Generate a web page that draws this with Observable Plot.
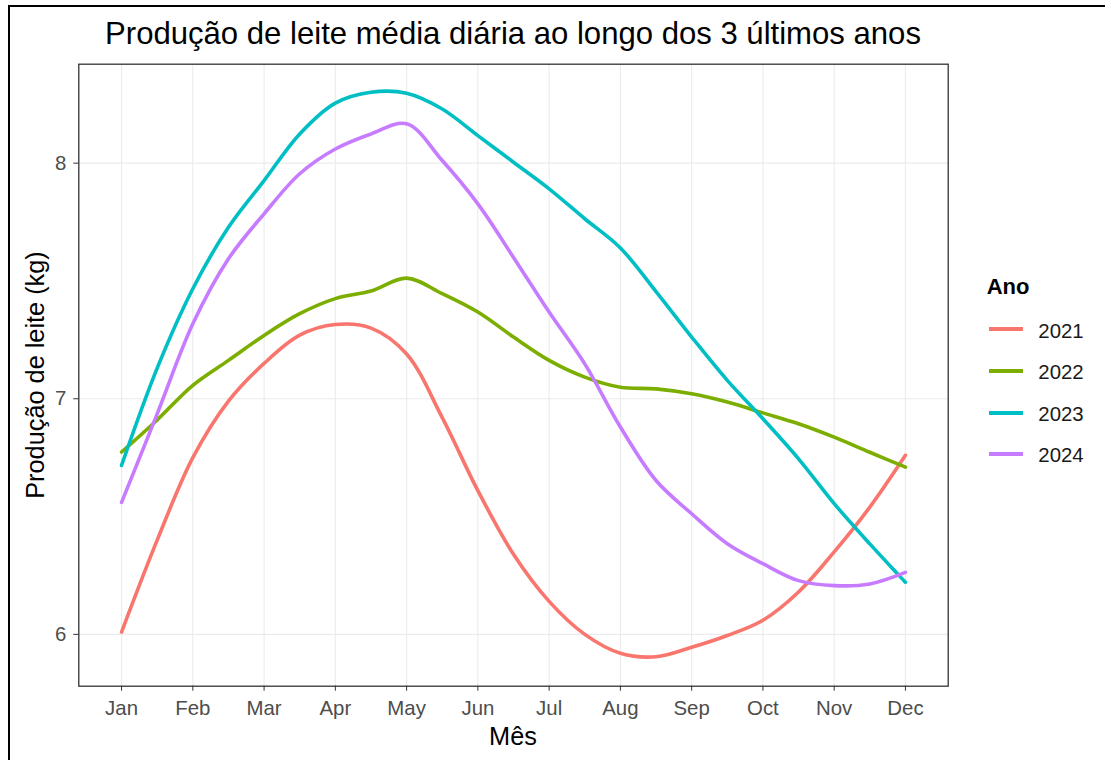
<!DOCTYPE html>
<html>
<head>
<meta charset="utf-8">
<script src="https://cdn.jsdelivr.net/npm/d3@7"></script>
<script src="https://cdn.jsdelivr.net/npm/@observablehq/plot@0.6"></script>
<style>
  html, body { margin: 0; padding: 0; background: #fff; }
  #wrap { position: relative; width: 1105px; height: 760px; background: #fff; overflow: hidden;
          font-family: "Liberation Sans", Arial, sans-serif; }
  #chart { position: absolute; left: 0; top: 0; }
  .txt { position: absolute; line-height: 1; white-space: nowrap; color: #000; }
  .key { position: absolute; height: 4px; width: 34px; }
</style>
</head>
<body>
<div id="wrap">
  <div id="chart"></div>
</div>
<script>
// ---- data ----
const months = [1, 1.5, 2, 2.5, 3, 3.5, 4, 4.5, 5, 5.5, 6, 6.5, 7, 7.5, 8, 8.5, 9, 9.5, 10, 10.5, 11, 11.5, 12];
const monthTicks = [1, 2, 3, 4, 5, 6, 7, 8, 9, 10, 11, 12];
const monthLabels = ["Jan", "Feb", "Mar", "Apr", "May", "Jun", "Jul", "Aug", "Sep", "Oct", "Nov", "Dec"];
const yTicks = [6, 7, 8];
const years = ["2021", "2022", "2023", "2024"];

const v2021 = [6.01, 6.40, 6.75, 6.99, 7.15, 7.27, 7.315, 7.30, 7.19, 6.92, 6.61, 6.34, 6.14, 6.00, 5.92, 5.905, 5.945, 5.995, 6.06, 6.18, 6.35, 6.54, 6.76];
const v2022 = [6.774, 6.91, 7.057, 7.163, 7.269, 7.361, 7.425, 7.457, 7.512, 7.446, 7.368, 7.262, 7.163, 7.092, 7.049, 7.042, 7.021, 6.986, 6.94, 6.894, 6.837, 6.773, 6.71];
const v2023 = [6.717, 7.13, 7.467, 7.728, 7.926, 8.124, 8.255, 8.301, 8.297, 8.23, 8.117, 8.004, 7.891, 7.764, 7.64, 7.455, 7.262, 7.078, 6.915, 6.745, 6.555, 6.384, 6.221];
const v2024 = [6.56, 6.936, 7.318, 7.594, 7.785, 7.955, 8.06, 8.124, 8.167, 8.011, 7.827, 7.60, 7.368, 7.148, 6.88, 6.653, 6.512, 6.385, 6.30, 6.228, 6.207, 6.214, 6.263];

const colors = ["#F8766D", "#7CAE00", "#00BFC4", "#C77CFF"];

const titleText = "Produção de leite média diária ao longo dos 3 últimos anos";
const xTitle = "Mês";
const yTitle = "Produção de leite (kg)";
const legendTitle = "Ano";

// ---- tidy table ----
const seriesValues = [v2021, v2022, v2023, v2024];
const rows = [];
years.forEach((yr, i) => {
  months.forEach((m, j) => rows.push({ano: yr, mes: m, valor: seriesValues[i][j]}));
});

const chart = Plot.plot({
  width: 1105,
  height: 760,
  marginLeft: 78.3,
  marginRight: 157.3,
  marginTop: 63.7,
  marginBottom: 74.3,
  style: {fontFamily: "'Liberation Sans', Arial, sans-serif", fontSize: "20.4px", background: "transparent", overflow: "visible"},
  x: {domain: [1 - 0.6, 12 + 0.6]},
  y: {domain: [5.780, 8.420]},
  color: {domain: years, range: colors},
  marks: [
    Plot.gridX(monthTicks, {stroke: "#EBEBEB", strokeOpacity: 1, strokeWidth: 1.1}),
    Plot.gridY(yTicks, {stroke: "#EBEBEB", strokeOpacity: 1, strokeWidth: 1.1}),
    Plot.line(rows, {x: "mes", y: "valor", z: "ano", stroke: "ano", strokeWidth: 3.6, curve: "catmull-rom"}),
    Plot.frame({stroke: "#333333", strokeWidth: 1.3}),
    Plot.axisX(monthTicks, {tickFormat: (d) => monthLabels[d - 1], tickSize: 5, tickPadding: 9.5, stroke: "#333333", fill: "#4D4D4D", label: null}),
    Plot.axisY(yTicks, {tickFormat: (d) => String(d), tickSize: 5, tickPadding: 7.5, stroke: "#333333", fill: "#4D4D4D", label: null})
  ]
});
document.getElementById("chart").appendChild(chart);

// ---- text and legend overlays ----
const wrap = document.getElementById("wrap");
function addText(str, opts) {
  const d = document.createElement("div");
  d.className = "txt";
  d.textContent = str;
  Object.assign(d.style, opts);
  wrap.appendChild(d);
  return d;
}
// frame lines of the screenshot
const bl = document.createElement("div");
Object.assign(bl.style, {position: "absolute", left: "8px", top: "5px", width: "2px", height: "760px", background: "#000"});
wrap.appendChild(bl);
const bt = document.createElement("div");
Object.assign(bt.style, {position: "absolute", left: "8px", top: "5px", width: "1100px", height: "1.5px", background: "#000"});
wrap.appendChild(bt);

addText(titleText, {left: "513px", top: "17.7px", fontSize: "31.1px", transform: "translateX(-50%)"});
addText(xTitle, {left: "513px", top: "723.6px", fontSize: "25.3px", transform: "translateX(-50%)"});
addText(yTitle, {left: "35.8px", top: "374.7px", fontSize: "25.3px", transform: "translate(-50%,-50%) rotate(-90deg)"});
addText(legendTitle, {left: "986.7px", top: "276.4px", fontSize: "22px", fontWeight: "bold"});

const keyY = [329.3, 370.7, 412.5, 454];
years.forEach((yr, i) => {
  const k = document.createElement("div");
  k.className = "key";
  Object.assign(k.style, {left: "989px", top: (keyY[i] - 2) + "px", background: colors[i]});
  wrap.appendChild(k);
  addText(yr, {left: "1038.3px", top: (keyY[i] - 8.8) + "px", fontSize: "20.4px", color: "#1A1A1A"});
});
</script>
</body>
</html>
